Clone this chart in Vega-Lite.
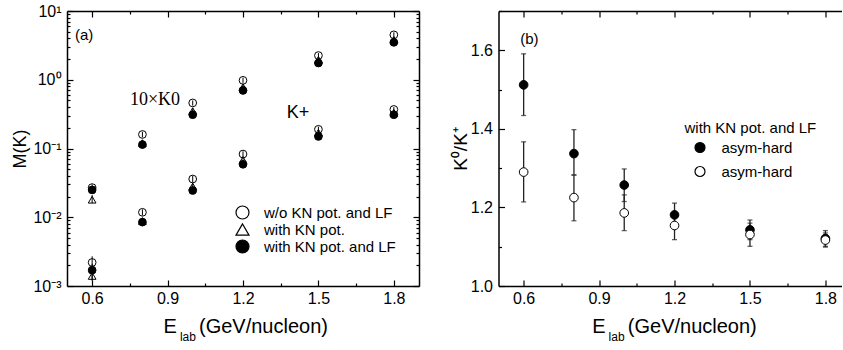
{
  "$schema": "https://vega.github.io/schema/vega-lite/v6.json",
  "padding": {"left": 11, "top": 3, "right": 0, "bottom": 0},
  "spacing": 30.5,
  "resolve": {"scale": {"fill": "independent", "shape": "independent", "stroke": "independent"}, "legend": {"fill": "independent", "shape": "independent", "stroke": "independent"}},
  "config": {
    "font": "Liberation Sans",
    "view": {"stroke": null},
    "axis": {
      "grid": false,
      "domainColor": "#000",
      "tickColor": "#000",
      "labelColor": "#000",
      "titleColor": "#000",
      "titleFontWeight": "normal",
      "labelFont": "Liberation Sans",
      "titleFont": "Liberation Sans",
      "labelFontSize": 16,
      "titleFontSize": 19,
      "domainWidth": 1.5,
      "tickWidth": 1.2,
      "labelFlush": false
    },
    "legend": {"labelColor": "#000", "titleColor": "#000", "labelFont": "Liberation Sans", "titleFont": "Liberation Sans"}
  },
  "datasets": {
    "K": [
      {"E": 0.6, "model": "w/o KN pot. and LF", "v": 0.027, "lo": 0.024, "hi": 0.030},
      {"E": 0.8, "model": "w/o KN pot. and LF", "v": 0.16, "lo": 0.145, "hi": 0.175},
      {"E": 1.0, "model": "w/o KN pot. and LF", "v": 0.46, "lo": 0.42, "hi": 0.50},
      {"E": 1.2, "model": "w/o KN pot. and LF", "v": 0.98, "lo": 0.90, "hi": 1.07},
      {"E": 1.5, "model": "w/o KN pot. and LF", "v": 2.25, "lo": 2.07, "hi": 2.45},
      {"E": 1.8, "model": "w/o KN pot. and LF", "v": 4.5, "lo": 4.15, "hi": 4.9},
      {"E": 0.6, "model": "w/o KN pot. and LF", "v": 0.0022, "lo": 0.0019, "hi": 0.0027},
      {"E": 0.8, "model": "w/o KN pot. and LF", "v": 0.0118, "lo": 0.0106, "hi": 0.013},
      {"E": 1.0, "model": "w/o KN pot. and LF", "v": 0.036, "lo": 0.032, "hi": 0.040},
      {"E": 1.2, "model": "w/o KN pot. and LF", "v": 0.083, "lo": 0.075, "hi": 0.091},
      {"E": 1.5, "model": "w/o KN pot. and LF", "v": 0.19, "lo": 0.173, "hi": 0.208},
      {"E": 1.8, "model": "w/o KN pot. and LF", "v": 0.37, "lo": 0.34, "hi": 0.40},
      {"E": 0.6, "model": "with KN pot.", "v": 0.018, "lo": 0.016, "hi": 0.021},
      {"E": 0.8, "model": "with KN pot.", "v": 0.12, "lo": 0.108, "hi": 0.132},
      {"E": 1.0, "model": "with KN pot.", "v": 0.35, "lo": 0.32, "hi": 0.38},
      {"E": 1.2, "model": "with KN pot.", "v": 0.78, "lo": 0.72, "hi": 0.85},
      {"E": 1.5, "model": "with KN pot.", "v": 1.95, "lo": 1.8, "hi": 2.12},
      {"E": 1.8, "model": "with KN pot.", "v": 3.8, "lo": 3.5, "hi": 4.1},
      {"E": 0.6, "model": "with KN pot.", "v": 0.0014, "lo": 0.0012, "hi": 0.0017},
      {"E": 0.8, "model": "with KN pot.", "v": 0.0088, "lo": 0.0078, "hi": 0.0098},
      {"E": 1.0, "model": "with KN pot.", "v": 0.028, "lo": 0.025, "hi": 0.031},
      {"E": 1.2, "model": "with KN pot.", "v": 0.068, "lo": 0.062, "hi": 0.075},
      {"E": 1.5, "model": "with KN pot.", "v": 0.17, "lo": 0.155, "hi": 0.186},
      {"E": 1.8, "model": "with KN pot.", "v": 0.33, "lo": 0.30, "hi": 0.36},
      {"E": 0.6, "model": "with KN pot. and LF", "v": 0.025, "lo": 0.022, "hi": 0.028},
      {"E": 0.8, "model": "with KN pot. and LF", "v": 0.114, "lo": 0.103, "hi": 0.126},
      {"E": 1.0, "model": "with KN pot. and LF", "v": 0.31, "lo": 0.285, "hi": 0.34},
      {"E": 1.2, "model": "with KN pot. and LF", "v": 0.70, "lo": 0.645, "hi": 0.76},
      {"E": 1.5, "model": "with KN pot. and LF", "v": 1.75, "lo": 1.62, "hi": 1.9},
      {"E": 1.8, "model": "with KN pot. and LF", "v": 3.5, "lo": 3.25, "hi": 3.8},
      {"E": 0.6, "model": "with KN pot. and LF", "v": 0.0017, "lo": 0.0012, "hi": 0.0021},
      {"E": 0.8, "model": "with KN pot. and LF", "v": 0.0085, "lo": 0.0076, "hi": 0.0094},
      {"E": 1.0, "model": "with KN pot. and LF", "v": 0.0245, "lo": 0.022, "hi": 0.027},
      {"E": 1.2, "model": "with KN pot. and LF", "v": 0.059, "lo": 0.054, "hi": 0.065},
      {"E": 1.5, "model": "with KN pot. and LF", "v": 0.15, "lo": 0.137, "hi": 0.164},
      {"E": 1.8, "model": "with KN pot. and LF", "v": 0.31, "lo": 0.285, "hi": 0.34}
    ],
    "R": [
      {"E": 0.6, "series": "filled", "v": 1.512, "lo": 1.434, "hi": 1.591},
      {"E": 0.8, "series": "filled", "v": 1.337, "lo": 1.283, "hi": 1.398},
      {"E": 1.0, "series": "filled", "v": 1.257, "lo": 1.215, "hi": 1.298},
      {"E": 1.2, "series": "filled", "v": 1.181, "lo": 1.152, "hi": 1.211},
      {"E": 1.5, "series": "filled", "v": 1.143, "lo": 1.118, "hi": 1.168},
      {"E": 1.8, "series": "filled", "v": 1.121, "lo": 1.101, "hi": 1.141},
      {"E": 0.6, "series": "open", "v": 1.290, "lo": 1.214, "hi": 1.367},
      {"E": 0.8, "series": "open", "v": 1.225, "lo": 1.166, "hi": 1.282},
      {"E": 1.0, "series": "open", "v": 1.186, "lo": 1.141, "hi": 1.232},
      {"E": 1.2, "series": "open", "v": 1.154, "lo": 1.118, "hi": 1.185},
      {"E": 1.5, "series": "open", "v": 1.131, "lo": 1.101, "hi": 1.160},
      {"E": 1.8, "series": "open", "v": 1.117, "lo": 1.099, "hi": 1.135}
    ]
  },
  "hconcat": [
    {
      "width": 352,
      "height": 275,
      "resolve": {"axis": {"x": "independent", "y": "independent"}},
      "layer": [
        {
          "data": {"name": "K"},
          "mark": {"type": "rule", "color": "black", "strokeWidth": 1},
          "encoding": {
            "x": {"field": "E", "type": "quantitative", "scale": {"domain": [0.5, 1.9], "nice": false, "zero": false},
              "axis": {"orient": "bottom", "values": [0.6, 0.9, 1.2, 1.5, 1.8], "format": ".1f", "tickSize": -6, "labelPadding": 10,
                "title": "E\u00a0\u00a0\u00a0\u00a0(GeV/nucleon)", "titleFontSize": 20, "titleX": 178.2, "titleY": 40, "titleBaseline": "middle", "titleAlign": "center"}},
            "y": {"field": "lo", "type": "quantitative", "scale": {"type": "log", "domain": [0.001, 10], "nice": false},
              "axis": {"orient": "left", "values": [0.001, 0.01, 0.1, 1, 10], "tickSize": -6, "labelPadding": 12,
                "labelExpr": "datum.value == 10 ? '10¹' : datum.value == 1 ? '10⁰' : datum.value == 0.1 ? '10⁻¹' : datum.value == 0.01 ? '10⁻²' : '10⁻³'",
                "title": "M(K)", "titleFontSize": 18, "titlePadding": 3}},
            "y2": {"field": "hi"}
          }
        },
        {
          "data": {"name": "K"},
          "mark": {"type": "point", "filled": true, "strokeWidth": 1, "size": 60, "opacity": 1},
          "encoding": {
            "x": {"field": "E", "type": "quantitative",
              "axis": {"orient": "top", "values": [0.6, 0.9, 1.2, 1.5, 1.8], "labels": false, "tickSize": -6, "title": null}},
            "y": {"field": "v", "type": "quantitative",
              "axis": {"orient": "right", "values": [0.001, 0.01, 0.1, 1, 10], "labels": false, "tickSize": -6, "title": null}},
            "shape": {"field": "model", "type": "nominal",
              "scale": {"domain": ["w/o KN pot. and LF", "with KN pot.", "with KN pot. and LF"], "range": ["circle", "triangle-up", "circle"]},
              "legend": {"orient": "none", "legendX": 168, "legendY": 194, "title": null, "padding": 0, "symbolSize": 169,
                "symbolStrokeWidth": 1.2, "labelFontSize": 15, "labelOffset": 14, "rowPadding": -1}},
            "fill": {"field": "model", "type": "nominal",
              "scale": {"domain": ["w/o KN pot. and LF", "with KN pot.", "with KN pot. and LF"], "range": ["rgba(255,255,255,0)", "rgba(255,255,255,0)", "black"]},
              "legend": {"orient": "none", "legendX": 168, "legendY": 194, "title": null, "padding": 0, "symbolSize": 169,
                "symbolStrokeWidth": 1.2, "labelFontSize": 15, "labelOffset": 14, "rowPadding": -1}},
            "stroke": {"field": "model", "type": "nominal",
              "scale": {"domain": ["w/o KN pot. and LF", "with KN pot.", "with KN pot. and LF"], "range": ["black", "black", "black"]},
              "legend": {"orient": "none", "legendX": 168, "legendY": 194, "title": null, "padding": 0, "symbolSize": 169,
                "symbolStrokeWidth": 1.2, "labelFontSize": 15, "labelOffset": 14, "rowPadding": -1}}
          }
        },
        {
          "data": {"values": [{"E": 0.568, "v": 4.47, "t": "(a)"}]},
          "mark": {"type": "text", "font": "Liberation Sans", "fontSize": 15, "color": "black"},
          "encoding": {
            "x": {"field": "E", "type": "quantitative",
              "axis": {"orient": "bottom", "values": [0.75, 1.05, 1.35, 1.65], "labels": false, "domain": false, "tickSize": -3, "title": null}},
            "y": {"field": "v", "type": "quantitative",
              "axis": {"orient": "left", "values": [0.002, 0.003, 0.004, 0.005, 0.006, 0.007, 0.008, 0.009, 0.02, 0.03, 0.04, 0.05, 0.06, 0.07, 0.08, 0.09, 0.2, 0.3, 0.4, 0.5, 0.6, 0.7, 0.8, 0.9, 2, 3, 4, 5, 6, 7, 8, 9],
                "labels": false, "domain": false, "tickSize": -3, "title": null}},
            "text": {"field": "t"}
          }
        },
        {
          "data": {"values": [{"E": 0.85, "v": 0.502, "t": "10×K0"}]},
          "mark": {"type": "text", "font": "Liberation Serif", "fontSize": 18, "color": "black"},
          "encoding": {
            "x": {"field": "E", "type": "quantitative",
              "axis": {"orient": "top", "values": [0.75, 1.05, 1.35, 1.65], "labels": false, "domain": false, "tickSize": -3, "title": null}},
            "y": {"field": "v", "type": "quantitative",
              "axis": {"orient": "right", "values": [0.002, 0.003, 0.004, 0.005, 0.006, 0.007, 0.008, 0.009, 0.02, 0.03, 0.04, 0.05, 0.06, 0.07, 0.08, 0.09, 0.2, 0.3, 0.4, 0.5, 0.6, 0.7, 0.8, 0.9, 2, 3, 4, 5, 6, 7, 8, 9],
                "labels": false, "domain": false, "tickSize": -3, "title": null}},
            "text": {"field": "t"}
          }
        },
        {
          "data": {"values": [{"E": 1.419, "v": 0.324, "t": "K+"}]},
          "mark": {"type": "text", "font": "Liberation Sans", "fontSize": 18, "color": "black"},
          "encoding": {
            "x": {"field": "E", "type": "quantitative",
              "axis": {"orient": "bottom", "labels": false, "ticks": false, "domain": false, "title": "lab", "titleFontSize": 12,
                "titleX": 120.4, "titleY": 50, "titleBaseline": "middle", "titleAlign": "center"}},
            "y": {"field": "v", "type": "quantitative", "axis": null},
            "text": {"field": "t"}
          }
        }
      ]
    },
    {
      "width": 343,
      "height": 275,
      "resolve": {"axis": {"x": "independent", "y": "independent"}},
      "layer": [
        {
          "data": {"name": "R"},
          "mark": {"type": "rule", "color": "#222", "strokeWidth": 1.3},
          "encoding": {
            "x": {"field": "E", "type": "quantitative", "scale": {"domain": [0.5, 1.864], "nice": false, "zero": false},
              "axis": {"orient": "bottom", "values": [0.6, 0.9, 1.2, 1.5, 1.8], "format": ".1f", "tickSize": -6, "labelPadding": 10,
                "title": "E\u00a0\u00a0\u00a0\u00a0(GeV/nucleon)", "titleFontSize": 20, "titleX": 175.5, "titleY": 40, "titleBaseline": "middle", "titleAlign": "center"}},
            "y": {"field": "lo", "type": "quantitative", "scale": {"domain": [1.0, 1.7], "nice": false, "zero": false},
              "axis": {"orient": "left", "values": [1.0, 1.2, 1.4, 1.6], "format": ".1f", "tickSize": -6, "labelPadding": 12,
                "title": "K⁰/K⁺", "titleFontSize": 19, "titlePadding": 0}},
            "y2": {"field": "hi"}
          }
        },
        {
          "data": {"name": "R"},
          "mark": {"type": "tick", "orient": "horizontal", "size": 5, "thickness": 1.3, "color": "#222"},
          "encoding": {
            "x": {"field": "E", "type": "quantitative",
              "axis": {"orient": "top", "values": [0.6, 0.9, 1.2, 1.5, 1.8], "labels": false, "tickSize": -6, "title": null}},
            "y": {"field": "lo", "type": "quantitative",
              "axis": {"orient": "left", "values": [1.1, 1.3, 1.5, 1.7], "labels": false, "domain": false, "tickSize": -3, "title": null}}
          }
        },
        {
          "data": {"name": "R"},
          "mark": {"type": "tick", "orient": "horizontal", "size": 5, "thickness": 1.3, "color": "#222"},
          "encoding": {
            "x": {"field": "E", "type": "quantitative",
              "axis": {"orient": "bottom", "values": [0.75, 1.05, 1.35, 1.65], "labels": false, "domain": false, "tickSize": -3, "title": null}},
            "y": {"field": "hi", "type": "quantitative", "axis": null}
          }
        },
        {
          "data": {"name": "R"},
          "mark": {"type": "point", "filled": true, "shape": "circle", "stroke": "black", "strokeWidth": 1, "size": 75, "opacity": 1},
          "encoding": {
            "x": {"field": "E", "type": "quantitative",
              "axis": {"orient": "top", "values": [0.75, 1.05, 1.35, 1.65], "labels": false, "domain": false, "tickSize": -3, "title": null}},
            "y": {"field": "v", "type": "quantitative", "axis": null},
            "fill": {"field": "series", "type": "nominal",
              "scale": {"domain": ["filled", "open"], "range": ["black", "white"]},
              "legend": {"orient": "none", "legendX": 186, "legendY": 110, "title": "with KN pot. and LF", "titleFontSize": 15,
                "titleFontWeight": "normal", "titlePadding": 4, "labelExpr": "'asym-hard'", "labelFontSize": 15, "symbolSize": 100,
                "symbolOffset": 8, "labelOffset": 14, "rowPadding": 8, "padding": 0, "symbolStrokeColor": "black", "symbolStrokeWidth": 1.2}}
          }
        },
        {
          "data": {"values": [{"E": 0.623, "v": 1.63, "t": "(b)"}]},
          "mark": {"type": "text", "font": "Liberation Sans", "fontSize": 15, "color": "black"},
          "encoding": {
            "x": {"field": "E", "type": "quantitative",
              "axis": {"orient": "bottom", "labels": false, "ticks": false, "domain": false, "title": "lab", "titleFontSize": 12,
                "titleX": 117.6, "titleY": 50, "titleBaseline": "middle", "titleAlign": "center"}},
            "y": {"field": "v", "type": "quantitative", "axis": null},
            "text": {"field": "t"}
          }
        }
      ]
    }
  ]
}
